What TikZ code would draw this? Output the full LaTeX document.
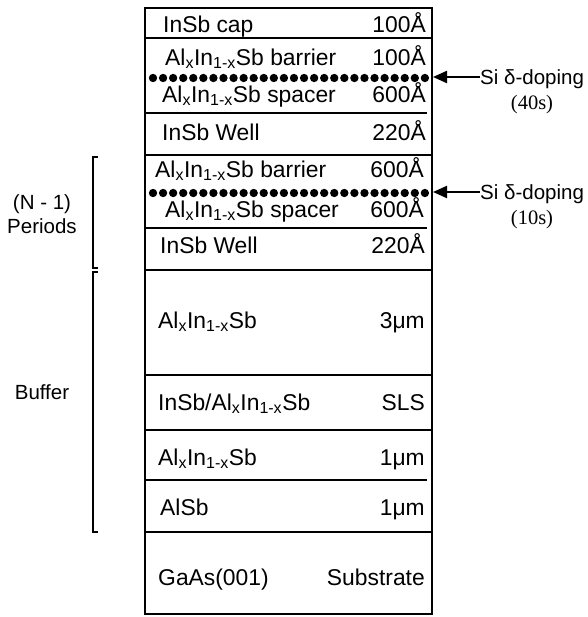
\documentclass[tikz,border=0pt]{standalone}
\usepackage{fontspec}
\setmainfont{Liberation Sans}
\newfontfamily\timesfont{Liberation Serif}
\usetikzlibrary{arrows.meta,positioning}
\newcommand{\alin}{Al\textsubscript{x}In\textsubscript{1-x}Sb}

\begin{document}
\begin{tikzpicture}[x=0.03cm, y=-0.03cm,
    lyr/.style={font=\fontsize{19.5}{22}\selectfont, inner sep=0pt},
    side/.style={font=\fontsize{17.5}{20.5}\selectfont, align=center, inner sep=0pt},
    tms/.style={font=\timesfont\fontsize{17.5}{20}\selectfont, inner sep=0pt},
    thk/.style={line width=2.4pt},
    thn/.style={line width=1.2pt},
    brk/.style={line width=1.7pt},
    arr/.style={-{Triangle[length=0.42cm, width=0.36cm]}, line width=1.8pt}
]
\useasboundingbox (0,0) rectangle (587,617);

% layer stack
\draw[thk] (145,8) rectangle (432,614);
\foreach \yy in {38,155,270,375,430,532}
    \draw[thk] (145,\yy) -- (432,\yy);
\foreach \yy in {113,228,480}
    \draw[thn] (145,\yy) -- (427,\yy);

% delta-doping sheets
\foreach \yy in {78,193}
    \foreach \i in {0,...,27}
        \fill ({153+\i*10.07},\yy) circle[radius=0.125cm];

% layer names and thicknesses
\node[lyr, anchor=base west] (cap)   at (163,32)  {InSb cap};
\node[lyr, anchor=base east] (capd)  at (426,32)  {100Å};
\node[lyr, anchor=base west] (bar1)  at (165,65)  {\alin{} barrier};
\node[lyr, anchor=base east] (bar1d) at (426,65)  {100Å};
\node[lyr, anchor=base west] (spc1)  at (162,102) {\alin{} spacer};
\node[lyr, anchor=base east] (spc1d) at (426,102) {600Å};
\node[lyr, anchor=base west] (well1) at (162,140) {InSb Well};
\node[lyr, anchor=base east] (wel1d) at (426,140) {220Å};
\node[lyr, anchor=base west] (bar2)  at (155,177) {\alin{} barrier};
\node[lyr, anchor=base east] (bar2d) at (424,177) {600Å};
\node[lyr, anchor=base west] (spc2)  at (165,217) {\alin{} spacer};
\node[lyr, anchor=base east] (spc2d) at (424,217) {600Å};
\node[lyr, anchor=base west] (well2) at (160,253) {InSb Well};
\node[lyr, anchor=base east] (wel2d) at (425,253) {220Å};
\node[lyr, anchor=base west] (buf3)  at (158,328) {\alin};
\node[lyr, anchor=base east] (buf3d) at (425,328) {3μm};
\node[lyr, anchor=base west] (sls)   at (158,410) {InSb/\alin};
\node[lyr, anchor=base east] (slsd)  at (425,410) {SLS};
\node[lyr, anchor=base west] (buf1)  at (158,465) {\alin};
\node[lyr, anchor=base east] (buf1d) at (425,465) {1μm};
\node[lyr, anchor=base west] (alsb)  at (160,515) {AlSb};
\node[lyr, anchor=base east] (alsbd) at (425,515) {1μm};
\node[lyr, anchor=base west] (sub)   at (158,585) {GaAs(001)};
\node[lyr, anchor=base east] (subd)  at (425,585) {Substrate};

% doping labels
\coordinate (d1) at (433,77);
\coordinate (d2) at (433,192);
\node[side, anchor=base west] (dop1) at (480,84) {Si δ-doping};
\node[tms, anchor=base] (t1) at (532,109) {(40s)};
\node[side, anchor=base west] (dop2) at (480,199) {Si δ-doping};
\node[tms, anchor=base] (t2) at (532,224) {(10s)};
\draw[arr] (dop1.west |- d1) -- (d1);
\draw[arr] (dop2.west |- d2) -- (d2);

% brackets
\draw[brk] (98,157) -- (93,157) -- (93,268) -- (98,268);
\draw[brk] (98,272) -- (93,272) -- (93,532) -- (98,532);
\node[side] (per) at (42,214) {(N - 1)\\Periods};
\node[side] (buf) at (42,392) {Buffer};
\end{tikzpicture}
\end{document}
